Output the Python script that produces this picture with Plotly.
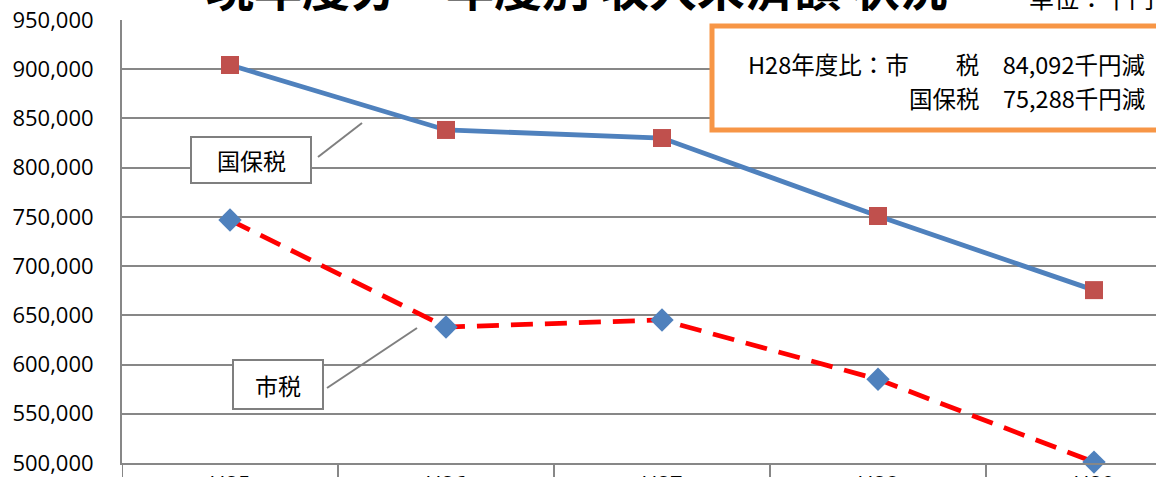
import plotly.graph_objects as go

# 年度別 収入未済額（単位：千円）
years = ["H25", "H26", "H27", "H28", "H29"]
kokuho_zei = [904300, 838300, 830100, 750900, 675612]   # 国保税
shi_zei = [746800, 638100, 645300, 585000, 500908]      # 市税

y_ticks = list(range(500000, 950001, 50000))
y_tick_text = [f"{v:,}" for v in y_ticks]

W, H = 1156, 477
L, R, T, B = 122, 0, 20, 14
CAT_W = 216  # pixel width of one category slot
X_RANGE = [-0.5, -0.5 + (W - L - R) / CAT_W]
Y_RANGE = [500000, 950000]

JP = "Noto Sans CJK JP"
NUM = "Open Sans"
GRID = "#878787"


def px_x(px):
    """pixel column -> x data coordinate"""
    return X_RANGE[0] + (px - L) / CAT_W


def px_y(py):
    """pixel row -> y data coordinate"""
    return Y_RANGE[1] - (py - T) / (H - T - B) * (Y_RANGE[1] - Y_RANGE[0])


def py_paper(py):
    return (H - B - py) / (H - T - B)


fig = go.Figure()

fig.add_trace(go.Scatter(
    x=list(range(len(years))), y=shi_zei, name="市税",
    mode="lines+markers",
    line=dict(color="#FF0000", width=4.8, dash="22px,12px"),
    marker=dict(symbol="diamond", size=18, color="#4F81BD"),
    cliponaxis=False,
))
fig.add_trace(go.Scatter(
    x=list(range(len(years))), y=kokuho_zei, name="国保税",
    mode="lines+markers",
    line=dict(color="#4F81BD", width=4.8),
    marker=dict(symbol="square", size=18, color="#C0504D"),
    cliponaxis=False,
))

shapes = []
# category dividers below the axis
for i in range(len(years) + 1):
    shapes.append(dict(type="line", xref="x", yref="paper",
                       x0=i - 0.5, x1=i - 0.5, y0=0, y1=-0.2,
                       line=dict(color=GRID, width=2)))

# comparison box
shapes.append(dict(type="rect", xref="x", yref="y",
                   x0=px_x(712), x1=px_x(1200), y0=px_y(130), y1=px_y(26),
                   line=dict(color="#F79646", width=5), fillcolor="white",
                   layer="above"))

# callout boxes and leader lines
shapes.append(dict(type="rect", xref="x", yref="y",
                   x0=px_x(191), x1=px_x(311), y0=px_y(183), y1=px_y(137),
                   line=dict(color="#7F7F7F", width=2), fillcolor="white",
                   layer="above"))
shapes.append(dict(type="line", xref="x", yref="y",
                   x0=px_x(318), y0=px_y(157), x1=px_x(362), y1=px_y(123),
                   line=dict(color="#7F7F7F", width=2), layer="above"))
shapes.append(dict(type="rect", xref="x", yref="y",
                   x0=px_x(233), x1=px_x(323), y0=px_y(409), y1=px_y(360),
                   line=dict(color="#7F7F7F", width=2), fillcolor="white",
                   layer="above"))
shapes.append(dict(type="line", xref="x", yref="y",
                   x0=px_x(327), y0=px_y(388), x1=px_x(417), y1=px_y(328),
                   line=dict(color="#7F7F7F", width=2), layer="above"))

box_font = dict(family=JP, size=23.5, color="black")
annotations = [
    dict(text="<b>現年度分・年度別 収入未済額 状況</b>", xref="paper", yref="paper",
         x=(577 - L) / (W - L), y=py_paper(-15), xanchor="center", yanchor="middle",
         showarrow=False, font=dict(family=JP, size=48, color="black"),
         ),
    dict(text="単位：千円", xref="paper", yref="paper",
         x=(1027 - L) / (W - L), y=py_paper(-3), xanchor="left", yanchor="middle",
         showarrow=False, font=dict(family=JP, size=25, color="black")),
    dict(text="H28年度比：市　　税　84,092千円減",
         xref="paper", yref="paper", x=(1147 - L) / (W - L), y=py_paper(64),
         xanchor="right", yanchor="middle", showarrow=False, font=box_font),
    dict(text="国保税　75,288千円減",
         xref="paper", yref="paper", x=(1147 - L) / (W - L), y=py_paper(98),
         xanchor="right", yanchor="middle", showarrow=False, font=box_font),
    dict(text="国保税", xref="x", yref="y", x=px_x(251), y=px_y(160),
         showarrow=False, font=dict(family=JP, size=23, color="black")),
    dict(text="市税", xref="x", yref="y", x=px_x(278), y=px_y(385),
         showarrow=False, font=dict(family=JP, size=23, color="black")),
]

fig.update_layout(
    width=W, height=H,
    margin=dict(l=L, r=R, t=T, b=B, autoexpand=False),
    paper_bgcolor="white", plot_bgcolor="white",
    showlegend=False,
    shapes=shapes,
    annotations=annotations,
    xaxis=dict(
        range=X_RANGE, tickmode="array", tickvals=list(range(len(years))),
        ticktext=years, showgrid=False, zeroline=False,
        showline=True, linecolor=GRID, linewidth=2,
        ticks="", ticklabelstandoff=1, automargin=False,
        tickfont=dict(family=NUM, size=22, color="black"),
    ),
    yaxis=dict(
        range=Y_RANGE, tickmode="array", tickvals=y_ticks, ticktext=y_tick_text,
        showgrid=True, gridcolor=GRID, gridwidth=2, zeroline=False,
        showline=True, linecolor=GRID, linewidth=2,
        ticks="", ticklabelstandoff=22, automargin=False,
        tickfont=dict(family=NUM, size=22, color="black"),
    ),
)

fig.write_html("out.html")
